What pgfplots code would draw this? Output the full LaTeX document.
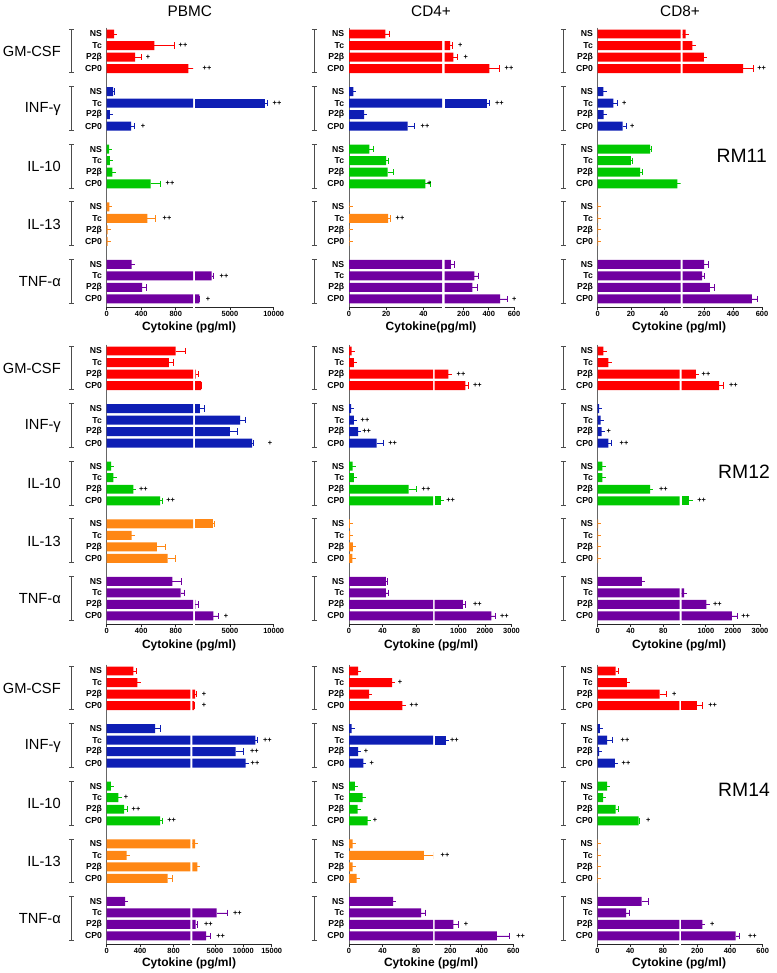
\documentclass[border=0pt]{standalone}
\usepackage{fontspec}
\setmainfont{Liberation Sans}
\usepackage{pgfplots}
\usepackage{pgfplotstable}
\pgfplotsset{compat=1.18}
\definecolor{cA}{RGB}{255,0,0}
\definecolor{cB}{RGB}{14,30,180}
\definecolor{cC}{RGB}{0,200,0}
\definecolor{cD}{RGB}{255,135,20}
\definecolor{cE}{RGB}{112,0,160}

% ---------- data: p = position, v = value, e = error ----------
\pgfplotstableread{
p v e
0 85 0
1 552 228
2 328 77
3 945 315
5 75 20
6 9000 270
7 38 0
8 282 40
10 27 0
11 38 0
12 65 0
13 510 115
15 30 0
16 470 97
17 12 0
18 10 0
20 290 0
21 2900 190
22 410 55
23 1500 30
}\tPA
\pgfplotstableread{
p v e
0 19.5 2.3
1 95 15
2 120 30
3 405 80
5 2.3 0
6 385 20
7 8.1 0
8 31.5 3.7
10 11 2
11 20 1
12 20.7 3.3
13 41 3
15 0.2 0
16 21 1.2
17 0.2 0
18 0.2 0
20 100 25
21 287 35
22 270 38
23 490 55
}\tCA
\pgfplotstableread{
p v e
0 72 0
1 118 0
2 197 0
3 470 70
5 3.4 0
6 9.4 2.6
7 3.6 0
8 15 2
10 31.5 1
11 20 0.8
12 25.5 1.2
13 48 8
15 0.3 0
16 0.3 0
17 0.3 0
18 0.3 0
20 200 30
21 185 18
22 240 30
23 530 37
}\tDA
\pgfplotstableread{
p v e
0 800 107
1 720 50
2 1060 350
3 1690 30
5 1570 450
6 6150 650
7 5000 840
8 7520 200
10 50 0
11 77 0
12 308 0
13 618 30
15 3040 190
16 290 0
17 580 95
18 707 93
20 760 110
21 857 43
22 1050 340
23 3100 570
}\tPB
\pgfplotstableread{
p v e
0 3.2 0
1 5.9 0
2 625 0
3 1260 125
5 2.4 0
6 5.9 0
7 11 0
8 33 7.8
10 4.3 0
11 5.9 0
12 71 9
13 347 0
15 1 0
16 1.2 0
17 4.5 0
18 4 0
20 44 1.6
21 44 2.8
22 1170 90
23 2240 140
}\tCB
\pgfplotstableread{
p v e
0 6.9 0
1 13 0
2 635 0
3 1490 150
5 1.6 0
6 3.6 0
7 4.9 0
8 13 4
10 5.7 0
11 5.7 0
12 63.8 0
13 394 0
15 0.5 0
16 0.5 0
17 0.5 0
18 0.5 0
20 54 0
21 194 0
22 1023 0
23 1960 190
}\tDB
\pgfplotstableread{
p v e
0 318 32
1 366 0
2 1480 170
3 1300 60
5 578 60
6 12110 300
7 8650 1340
8 10420 0
10 51 0
11 139 0
12 207 39
13 638 32
15 1480 0
16 239 0
17 1880 0
18 730 59
20 219 0
21 5300 1870
22 1600 280
23 3420 700
}\tPC
\pgfplotstableread{
p v e
0 11 0
1 51.3 0
2 24 0
3 63.5 0
5 3.2 0
6 171 0
7 11 0
8 17 0
10 7.1 0
11 16.2 0
12 10.3 0
13 22.1 0
15 4.3 0
16 89 12
17 4.3 0
18 9 0
20 52.5 0
21 86 5
22 219 32
23 495 78
}\tCC
\pgfplotstableread{
p v e
0 22 4
1 36 0
2 76 8
3 199 31
5 2.8 0
6 11.7 6
7 2 0
8 21.1 0
10 11.7 0
11 6.8 0
12 22 4
13 50.4 1.2
15 0.5 0
16 0.5 0
17 0.5 0
18 0.5 0
20 54 8
21 35 4
22 230 0
23 434 23
}\tDC

\pgfplotsset{
  common/.style={
    scale only axis, height=209.52pt,
    ymin=-0.55, ymax=23.7, y dir=reverse,
    axis line style={line width=0.7pt},
    x axis line style={black!85},
    y axis line style={black!60},
    tick align=outside, major tick length=2.2pt,
    xtick style={black!85, line width=0.6pt},
    ytick style={draw=none},
    xticklabel style={font=\bfseries\fontsize{5.6}{6}\selectfont, inner sep=1pt},
    yticklabel style={font=\bfseries\fontsize{6.5}{7}\selectfont, inner sep=1.2pt},
    /pgf/number format/assume math mode=true,
    scaled x ticks=false,
    clip=true, clip marker paths=true,
  },
  bsty/.style={xbar, bar width=0.78, bar shift=0pt, draw=none,
    error bars/x dir=plus, error bars/x explicit, error bars/error mark=|},
  gcol/.style={fill=#1,
    error bars/error bar style={draw=#1, line width=0.6pt},
    error bars/error mark options={draw=#1, line width=0.6pt, mark size=2.4pt}},
}

% #1 table, #2 extra options (x restriction)
\newcommand{\allbars}[2]{%
  \addplot[bsty, gcol=cA, restrict y to domain=-0.5:3.5, #2] table[x=v,y=p,x error=e]{#1};
  \addplot[bsty, gcol=cB, restrict y to domain=4.5:8.5, #2] table[x=v,y=p,x error=e]{#1};
  \addplot[bsty, gcol=cC, restrict y to domain=9.5:13.5, #2] table[x=v,y=p,x error=e]{#1};
  \addplot[bsty, gcol=cD, restrict y to domain=14.5:18.5, #2] table[x=v,y=p,x error=e]{#1};
  \addplot[bsty, gcol=cE, restrict y to domain=19.5:23.5, #2] table[x=v,y=p,x error=e]{#1};
}

% left segment: x0 ytop width L xticks xticklabels table
\newcommand{\leftax}[7]{%
  \begin{axis}[common, at={({#1*0.75pt},{-#2*0.75pt})}, anchor=north west,
    width={#3*0.75pt}, xmin=0, xmax=#4, xtick={#5}, xticklabels={#6},
    axis x line*=bottom, axis y line*=left,
    ytick={0,1,2,3,5,6,7,8,10,11,12,13,15,16,17,18,20,21,22,23},
    yticklabels={NS,Tc,P2β,CP0,NS,Tc,P2β,CP0,NS,Tc,P2β,CP0,NS,Tc,P2β,CP0,NS,Tc,P2β,CP0}]
  \allbars{#7}{}
  \end{axis}}
% right segment: x1 ytop width L M xticks xticklabels table
\newcommand{\rightax}[8]{%
  \begin{axis}[common, at={({#1*0.75pt},{-#2*0.75pt})}, anchor=north west,
    width={#3*0.75pt}, xmin=#4, xmax=#5, xtick={#6}, xticklabels={#7},
    axis x line*=bottom, axis y line=none, ytick=\empty]
  \allbars{#8}{restrict x to domain=#4:100000}
  \end{axis}}

\newcommand{\ann}[4]{\node[font=\bfseries\fontsize{5.5}{6}\selectfont, inner sep=0pt] at ({#1*0.75pt},{-(#2+#3*11.52)*0.75pt}) {#4};}
\newcommand{\txt}[4]{\node[font=#4, inner sep=0pt] at ({#1*0.75pt},{-#2*0.75pt}) {#3};}

\begin{document}
\begin{tikzpicture}
\path (0,0) rectangle ({776*0.75pt},{-973*0.75pt});

% ---------- row 1 ----------
\leftax{106.7}{27.66}{86.3}{1000}{0,400,800}{0,400,800}{\tPA}
\rightax{195}{27.66}{78.7}{1000}{10000}{5000,10000}{5000,10000}{\tPA}
\leftax{349}{27.66}{93}{50}{0,20,40}{0,20,40}{\tCA}
\rightax{444.5}{27.66}{69.5}{50}{600}{200,400,600}{200,400,600}{\tCA}
\leftax{597.7}{27.66}{83}{50}{0,20,40}{0,20,40}{\tDA}
\rightax{682.5}{27.66}{79.5}{50}{600}{200,400,600}{200,400,600}{\tDA}
% ---------- row 2 ----------
\leftax{106.7}{344.66}{86.3}{1000}{0,400,800}{0,400,800}{\tPB}
\rightax{195}{344.66}{78.7}{1000}{10000}{5000,10000}{5000,10000}{\tPB}
\leftax{349}{344.66}{84}{100}{0,40,80}{0,40,80}{\tCB}
\rightax{434.5}{344.66}{77}{100}{3000}{1000,2000,3000}{1000,2000,3000}{\tCB}
\leftax{597.7}{344.66}{82}{100}{0,40,80}{0,40,80}{\tDB}
\rightax{681.5}{344.66}{78.5}{100}{3000}{1000,2000,3000}{1000,2000,3000}{\tDB}
% ---------- row 3 ----------
\leftax{106.7}{664.66}{83.6}{1000}{0,400,800}{0,400,800}{\tPC}
\rightax{192.3}{664.66}{79.4}{1000}{15000}{5000,10000,15000}{5000,10000,15000}{\tPC}
\leftax{349}{664.66}{84}{100}{0,40,80}{0,40,80}{\tCC}
\rightax{434.5}{664.66}{78.8}{100}{600}{200,400,600}{200,400,600}{\tCC}
\leftax{597.5}{664.66}{81.8}{100}{0,40,80}{0,40,80}{\tDC}
\rightax{681}{664.66}{81.7}{100}{600}{200,400,600}{200,400,600}{\tDC}

% ---------- brackets and group names ----------
\foreach \b in {34,351,671}{
  \foreach \g in {0,...,4}{
    \pgfmathsetmacro{\ya}{-(\b+(5*\g-0.42)*11.52)*0.75}
    \pgfmathsetmacro{\yb}{-(\b+(5*\g+3.38)*11.52)*0.75}
    \foreach \bx in {71.7,314.3,563.3}{
      \draw[black!70, line width=0.7pt] ({(\bx-2.5)*0.75pt},{\ya pt}) -- ({(\bx+2.5)*0.75pt},{\ya pt})
        ({\bx*0.75pt},{\ya pt}) -- ({\bx*0.75pt},{\yb pt})
        ({(\bx-2.5)*0.75pt},{\yb pt}) -- ({(\bx+2.5)*0.75pt},{\yb pt});
    }
  }
  \foreach \n [count=\g from 0] in {GM-CSF,INF-γ,IL-10,IL-13,TNF-α}{
    \node[anchor=east, inner sep=0pt, font=\fontsize{11}{12}\selectfont] at ({61*0.75pt},{-(\b+(5*\g+1.5)*11.52)*0.75pt}) {\n};
  }
}

% ---------- titles ----------
\txt{189.7}{11}{PBMC}{\fontsize{11.5}{12}\selectfont}
\txt{431}{11}{CD4+}{\fontsize{11.5}{12}\selectfont}
\txt{680}{11}{CD8+}{\fontsize{11.5}{12}\selectfont}
\txt{741.7}{156}{RM11}{\fontsize{14.5}{15}\selectfont}
\txt{744}{471.7}{RM12}{\fontsize{14.5}{15}\selectfont}
\txt{744}{790}{RM14}{\fontsize{14.5}{15}\selectfont}
% x labels
\txt{189}{327}{Cytokine (pg/ml)}{\bfseries\fontsize{9}{10}\selectfont}
\txt{431}{327}{Cytokine(pg/ml)}{\bfseries\fontsize{9}{10}\selectfont}
\txt{679}{327}{Cytokine (pg/ml)}{\bfseries\fontsize{9}{10}\selectfont}
\txt{189}{645}{Cytokine (pg/ml)}{\bfseries\fontsize{9}{10}\selectfont}
\txt{431}{645}{Cytokine (pg/ml)}{\bfseries\fontsize{9}{10}\selectfont}
\txt{679}{645}{Cytokine (pg/ml)}{\bfseries\fontsize{9}{10}\selectfont}
\txt{189}{963}{Cytokine (pg/ml)}{\bfseries\fontsize{9}{10}\selectfont}
\txt{431}{963}{Cytokine (pg/ml)}{\bfseries\fontsize{9}{10}\selectfont}
\txt{679}{963}{Cytokine (pg/ml)}{\bfseries\fontsize{9}{10}\selectfont}

% ---------- significance marks ----------
% row 1
\ann{183}{34}{1}{++}\ann{148}{34}{2}{+}\ann{207}{34}{3}{++}\ann{277}{34}{6}{++}\ann{143}{34}{8}{+}
\ann{170}{34}{13}{++}\ann{167}{34}{16}{++}\ann{224}{34}{21}{++}\ann{208}{34}{23}{+}
\ann{460.3}{34}{1}{+}\ann{465.7}{34}{2}{+}\ann{509}{34}{3}{++}\ann{499.3}{34}{6}{++}\ann{425}{34}{8}{++}
\ann{429.3}{34}{13}{+}\ann{400}{34}{16}{++}\ann{514.3}{34}{23}{+}
\ann{761.7}{34}{3}{++}\ann{624.3}{34}{6}{+}\ann{632.3}{34}{8}{+}
% row 2
\ann{270}{351}{8}{+}\ann{143.3}{351}{12}{++}\ann{170.7}{351}{13}{++}\ann{226}{351}{23}{+}
\ann{461}{351}{2}{++}\ann{477.3}{351}{3}{++}\ann{365}{351}{6}{++}\ann{366.7}{351}{7}{++}\ann{392.7}{351}{8}{++}
\ann{426}{351}{12}{++}\ann{450.7}{351}{13}{++}\ann{477.3}{351}{22}{++}\ann{504.3}{351}{23}{++}
\ann{706}{351}{2}{++}\ann{733.3}{351}{3}{++}\ann{608.7}{351}{7}{+}\ann{624}{351}{8}{++}
\ann{663.3}{351}{12}{++}\ann{701.7}{351}{13}{++}\ann{717.3}{351}{22}{++}\ann{745.7}{351}{23}{++}
% row 3
\ann{204}{671}{2}{+}\ann{204}{671}{3}{+}\ann{267.3}{671}{6}{++}\ann{254.3}{671}{7}{++}\ann{255}{671}{8}{++}
\ann{126}{671}{11}{+}\ann{136}{671}{12}{++}\ann{171.7}{671}{13}{++}\ann{237.3}{671}{21}{++}\ann{208.3}{671}{22}{++}\ann{220.7}{671}{23}{++}
\ann{400}{671}{1}{+}\ann{414}{671}{3}{++}\ann{454.3}{671}{6}{++}\ann{366}{671}{7}{+}\ann{371.7}{671}{8}{+}
\ann{375}{671}{13}{+}\ann{445}{671}{16}{++}\ann{466}{671}{22}{+}\ann{520.7}{671}{23}{++}
\ann{674.3}{671}{2}{+}\ann{712.7}{671}{3}{++}\ann{625}{671}{6}{++}\ann{626}{671}{8}{++}
\ann{648.3}{671}{13}{+}\ann{712.3}{671}{22}{+}\ann{752.3}{671}{23}{++}
\end{tikzpicture}
\end{document}
